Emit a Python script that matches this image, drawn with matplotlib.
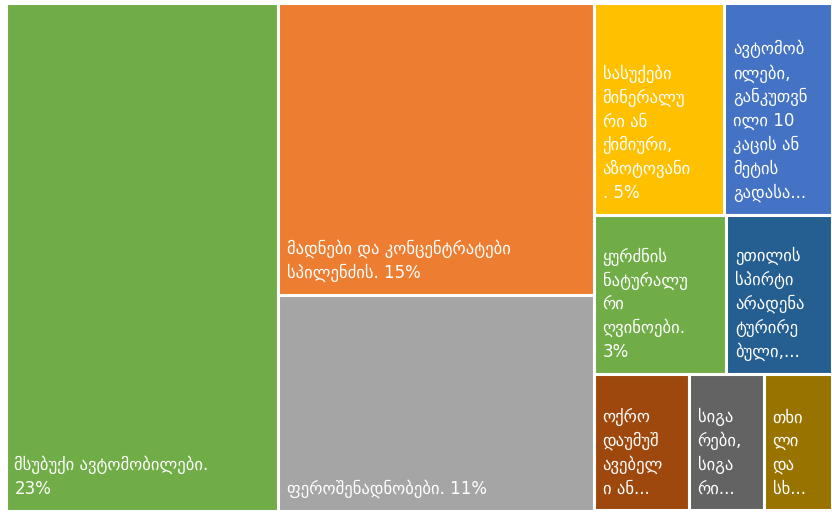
import matplotlib
matplotlib.use("Agg")
import matplotlib.pyplot as plt
from matplotlib.patches import Rectangle

# labels as they are wrapped / truncated in the reference
labels = [
    "მსუბუქი ავტომობილები.\n23%",
    "მადნები და კონცენტრატები\nსპილენძის. 15%",
    "ფეროშენადნობები. 11%",
    "სასუქები\nმინერალუ\nრი ან\nქიმიური,\nაზოტოვანი\n. 5%",
    "ავტომობ\nილები,\nგანკუთვნ\nილი 10\nკაცის ან\nმეტის\nგადასა...",
    "ყურძნის\nნატურალუ\nრი\nღვინოები.\n3%",
    "ეთილის\nსპირტი\nარადენა\nტურირე\nბული,...",
    "ოქრო\nდაუმუშ\nავებელ\nი ან...",
    "სიგა\nრები,\nსიგა\nრი...",
    "თხი\nლი\nდა\nსხ...",
]
values = [23, 15.3, 11.3, 4.6, 3.8, 3.5, 2.8, 2.15, 1.7, 1.55]
colors = ["#70AD47", "#ED7D31", "#A5A5A5", "#FFC000", "#4472C4",
          "#70AD47", "#255E91", "#9E480E", "#636363", "#997300"]

# how the cells are grouped (Excel-like squarified result)
groups = [[0], [1, 2], [3, 4], [5, 6], [7, 8, 9]]
directions = ["col", "col", "row", "row", "row"]


def layout(vals, x, y, w, h):
    rects = {}
    remaining = sum(vals)
    for grp, d in zip(groups, directions):
        s = sum(vals[i] for i in grp)
        if d == "col":
            cw = w * s / remaining
            cy = y
            for i in grp:
                ch = h * vals[i] / s
                rects[i] = (x, cy, cw, ch)
                cy += ch
            x += cw
            w -= cw
        else:
            rh = h * s / remaining
            cx = x
            for i in grp:
                cwid = w * vals[i] / s
                rects[i] = (cx, y, cwid, rh)
                cx += cwid
            y += rh
            h -= rh
        remaining -= s
    return rects


W, H = 826.5, 508.0
fig = plt.figure(figsize=(8.32, 5.12), dpi=100)
ax = fig.add_axes([5.5 / 832, 1.5 / 512, W / 832, H / 512])
ax.set_xlim(0, W)
ax.set_ylim(H, 0)
ax.axis("off")

rects = layout(values, 0, 0, W, H)
for i, (x, y, w, h) in rects.items():
    ax.add_patch(Rectangle((x, y), w, h, facecolor=colors[i],
                           edgecolor="white", linewidth=2.2))
    ax.annotate(labels[i], xy=(x, y + h), xytext=(9, 13),
                textcoords="offset pixels", ha="left", va="bottom",
                color="white", fontsize=12, fontweight="medium",
                linespacing=1.4, family=["DejaVu Sans"])

fig.savefig("out.png", dpi=100)
